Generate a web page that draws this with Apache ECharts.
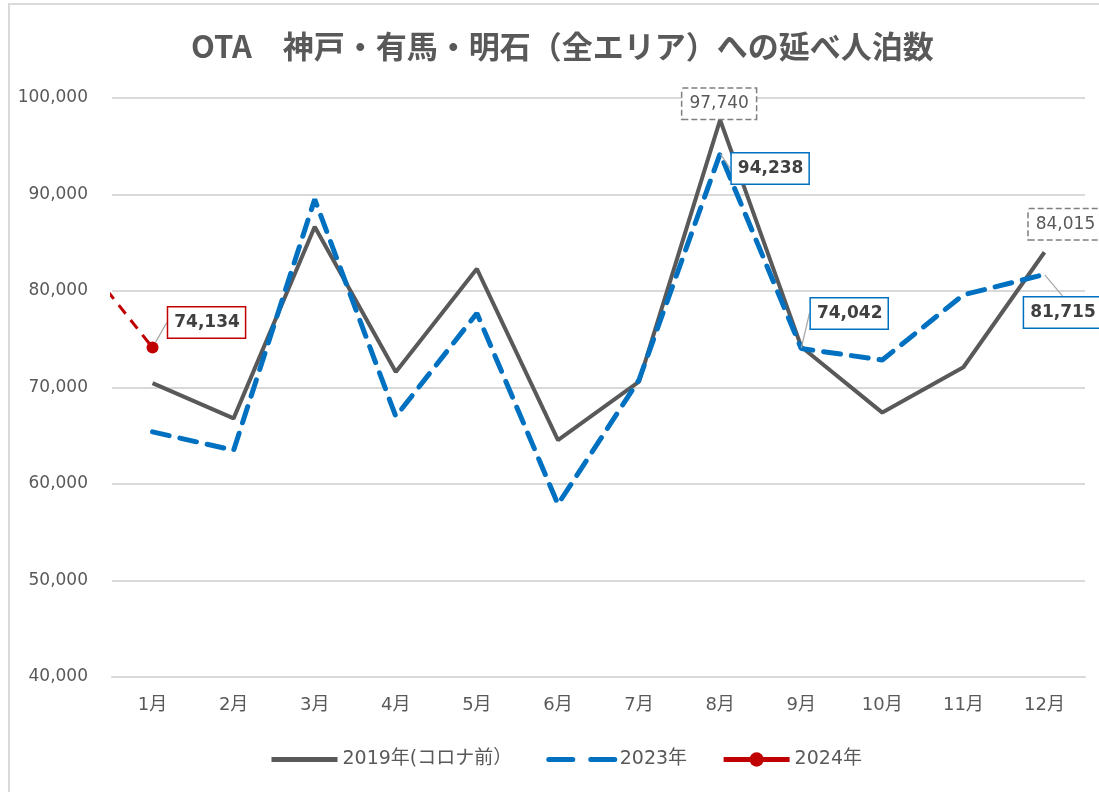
<!DOCTYPE html>
<html lang="ja">
<head>
    <meta charset="UTF-8">
    <title>OTA 延べ人泊数</title>
    <script src="https://cdn.jsdelivr.net/npm/echarts@6/dist/echarts.min.js"></script>
    <style>
        body { margin: 0; background: #fff; }
        #frame { position: absolute; left: 8px; top: 3px; width: 1200px; height: 900px; border: 2px solid #d9d9d9; }
        #main { position: absolute; left: 0; top: 0; width: 1099px; height: 792px; }
    </style>
</head>
<body>
    <div id="frame"></div>
    <div id="main"></div>
    <script type="text/javascript">
        // chart data
        const months = ['1月', '2月', '3月', '4月', '5月', '6月', '7月', '8月', '9月', '10月', '11月', '12月'];
        const v2019 = [70450, 66800, 86650, 71600, 82300, 64550, 70600, 97740, 74230, 67400, 72100, 84015];
        const v2023 = [65400, 63500, 89500, 67000, 77700, 57900, 70800, 94238, 74042, 72850, 79600, 81715];
        const v2024 = [74134];
        // dashed lead-in from the previous month into 2024's first point
        const v2024Lead = [[0, 84700], [1, 74134]];
        const yTicks = { min: 40000, max: 100000, step: 10000 };

        const cjk = '"Noto Sans CJK JP", "Noto Sans", sans-serif';
        const font = '"DejaVu Sans", "Noto Sans CJK JP", sans-serif';

        function boxLabel(color, dashed) {
            return {
                show: true,
                position: 'inside',
                fontFamily: font,
                fontSize: 17,
                fontWeight: dashed ? 'normal' : 'bold',
                color: dashed ? '#595959' : '#404040',
                backgroundColor: '#fff',
                borderColor: color,
                borderWidth: 1.5,
                borderType: dashed ? [6, 3] : 'solid',
                padding: dashed ? [7, 7, 6, 7] : [7, 5, 6, 6],
                formatter: p => p.value.toLocaleString('en-US')
            };
        }

        const guide = { show: true, lineStyle: { color: '#a6a6a6', width: 1.2 } };

        function point(v, label, line) {
            return { value: v, symbol: 'circle', symbolSize: 1, itemStyle: { color: 'rgba(0,0,0,0)' }, label: label, labelLine: line };
        }

        // label offsets from the point, by series and index
        const shifts = {
            '0-7': [-1, -16], '0-11': [21, -28],
            '1-7': [50, 15], '1-8': [48, -35], '1-11': [18, 38],
            '2-0': [54, -25]
        };

        const d2019 = v2019.map((v, i) => (i === 7 || i === 11) ? point(v, boxLabel('#7f7f7f', true), { show: false }) : v);
        const d2023 = v2023.map((v, i) => (i === 7 || i === 8 || i === 11) ? point(v, boxLabel('#0070C0', false), guide) : v);
        const d2024 = v2024.map(v => ({ value: v, label: boxLabel('#C00000', false), labelLine: guide }));

        const myChart = echarts.init(document.getElementById('main'));

        const option = {
            animation: false,
            textStyle: { fontFamily: font },
            title: {
                text: 'OTA　神戸・有馬・明石（全エリア）への延べ人泊数',
                left: 186,
                top: 26,
                textStyle: { fontFamily: cjk, fontSize: 31, fontWeight: 'bold', color: '#595959' }
            },
            legend: {
                data: [
                    { name: '2019年(コロナ前）', itemStyle: { opacity: 0 }, lineStyle: { width: 5 } },
                    { name: '2023年', itemStyle: { opacity: 0 }, lineStyle: { width: 5, type: [24, 18] } },
                    { name: '2024年', lineStyle: { width: 5 } }
                ],
                left: 264,
                top: 745,
                itemWidth: 66,
                itemHeight: 18,
                itemGap: 34,
                textStyle: { fontFamily: font, fontSize: 19, color: '#595959' }
            },
            grid: { left: 112, right: 14, top: 98, bottom: 115 },
            xAxis: [{
                type: 'category',
                data: months,
                axisLine: { show: true, lineStyle: { color: '#d9d9d9', width: 2 } },
                axisTick: { show: false },
                axisLabel: { color: '#595959', fontSize: 18, margin: 19, fontFamily: font }
            }, {
                type: 'value',
                min: 0.5,
                max: 12.5,
                show: false
            }],
            yAxis: {
                type: 'value',
                min: yTicks.min,
                max: yTicks.max,
                interval: yTicks.step,
                axisLine: { show: false },
                axisTick: { show: false },
                splitLine: { lineStyle: { color: '#d9d9d9', width: 2 } },
                axisLabel: {
                    color: '#595959', fontSize: 17, margin: 24, fontFamily: font,
                    formatter: v => v.toLocaleString('en-US')
                }
            },
            series: [{
                name: '2019年(コロナ前）',
                type: 'line',
                symbol: 'none',
                data: d2019,
                itemStyle: { color: '#595959' },
                lineStyle: { color: '#595959', width: 4 },
                z: 2
            }, {
                name: '2023年',
                type: 'line',
                symbol: 'none',
                data: d2023,
                itemStyle: { color: '#0070C0' },
                lineStyle: { color: '#0070C0', width: 5, type: [17, 11], cap: 'round' },
                z: 3
            }, {
                name: '2024年',
                type: 'line',
                symbol: 'circle',
                symbolSize: 12,
                data: d2024,
                itemStyle: { color: '#C00000' },
                lineStyle: { color: '#C00000', width: 4 },
                z: 5
            }, {
                name: '2024 lead',
                type: 'line',
                xAxisIndex: 1,
                symbol: 'none',
                silent: true,
                clip: true,
                data: v2024Lead,
                lineStyle: { color: '#C00000', width: 3, type: [11, 8] },
                z: 4
            }],
            labelLayout: function (p) {
                const s = shifts[p.seriesIndex + '-' + p.dataIndex];
                return s ? { dx: s[0], dy: s[1] } : {};
            }
        };

        myChart.setOption(option);
    </script>
</body>
</html>
